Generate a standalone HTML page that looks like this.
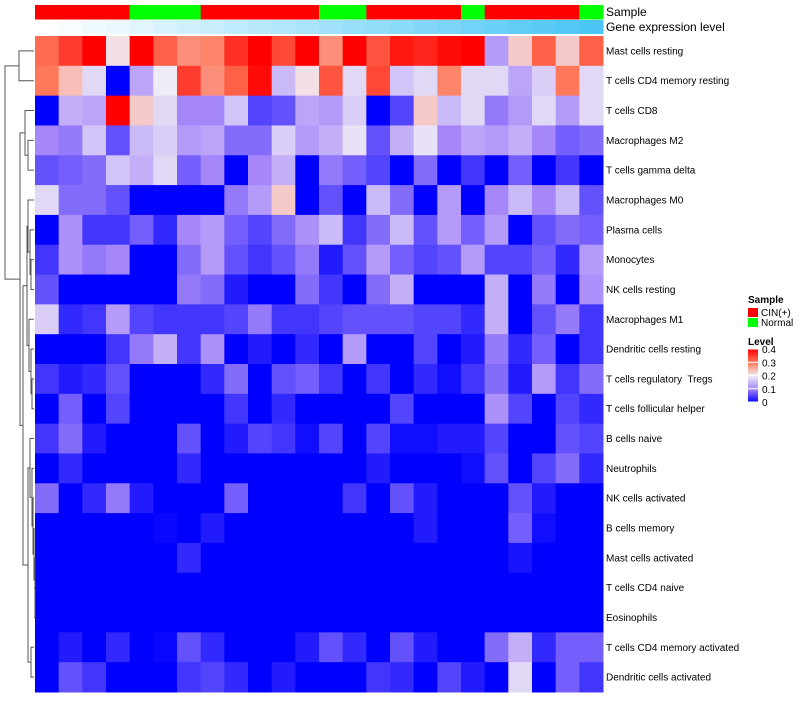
<!DOCTYPE html>
<html><head><meta charset="utf-8"><style>
body{margin:0;background:#fff;font-family:"Liberation Sans",sans-serif;}
svg text{font-family:"Liberation Sans",sans-serif;white-space:pre;}
</style></head><body>
<svg id="chart" width="800" height="700" xmlns="http://www.w3.org/2000/svg"></svg>
<script>
const rowNames=["Mast cells resting","T cells CD4 memory resting","T cells CD8","Macrophages M2","T cells gamma delta","Macrophages M0","Plasma cells","Monocytes","NK cells resting","Macrophages M1","Dendritic cells resting","T cells regulatory  Tregs","T cells follicular helper","B cells naive","Neutrophils","NK cells activated","B cells memory","Mast cells activated","T cells CD4 naive","Eosinophils","T cells CD4 memory activated","Dendritic cells activated"];
const sampleGroups=["CIN","CIN","CIN","CIN","N","N","N","CIN","CIN","CIN","CIN","CIN","N","N","CIN","CIN","CIN","CIN","N","CIN","CIN","CIN","CIN","N"];
const geneLevels=[1,2,3,4,5,6,7,8,9,10,11,12,13,14,15,16,17,18,19,20,21,22,23,24];
const values=[
[.31,.35,.40,.21,.40,.32,.28,.29,.36,.40,.34,.40,.28,.40,.33,.38,.37,.39,.40,.12,.23,.32,.23,.32],
[.30,.24,.18,0,.13,.20,.35,.28,.32,.39,.15,.21,.33,.18,.34,.16,.18,.29,.18,.18,.13,.17,.30,.18],
[0,.14,.13,.40,.23,.18,.10,.10,.16,.05,.06,.13,.12,.17,0,.05,.23,.15,.18,.09,.12,.18,.12,.18],
[.10,.09,.16,.06,.15,.17,.12,.13,.08,.08,.17,.12,.14,.19,.06,.14,.19,.10,.13,.12,.14,.10,.07,.08],
[.06,.07,.08,.16,.14,.18,.07,.10,0,.10,.14,0,.09,.07,.05,0,.08,0,.04,0,.07,0,.04,0],
[.18,.08,.08,.06,0,0,0,0,.09,.12,.23,0,.06,0,.15,.08,0,.12,0,.10,.15,.10,.15,.06],
[0,.11,.04,.04,.07,.03,.10,.12,.07,.05,.08,.11,.15,.04,.08,.15,.06,.12,.07,.12,0,.06,.08,.07],
[.04,.11,.09,.10,0,0,.08,.12,.06,.04,.06,.09,.02,.06,.12,.07,.05,.06,.12,.05,.05,.07,.03,.12],
[.06,0,0,0,0,0,.09,.08,.02,0,0,.08,.04,0,.08,.14,0,0,0,.14,0,.09,0,.11],
[.17,.03,.04,.12,.05,.04,.04,.04,.05,.09,.04,.04,.05,.06,.06,.06,.05,.05,.03,.14,0,.06,.09,.04],
[0,0,0,.04,.09,.14,.04,.11,0,.02,0,.03,0,.12,0,0,.05,0,.02,.09,.03,.07,0,.04],
[.04,.02,.03,.06,0,0,0,.03,.08,0,.06,.07,.04,0,.04,0,.03,.01,.04,.08,.02,.12,.04,.08],
[0,.07,0,.05,0,0,0,0,.04,0,.03,0,0,0,0,.05,0,0,0,.11,.05,0,.05,.03],
[.04,.08,.02,0,0,0,.06,0,.02,.05,.04,.01,.05,0,.05,.01,.01,.02,.02,.05,0,0,.06,.05],
[0,.03,0,0,0,0,.03,0,0,0,0,0,0,0,.02,0,0,0,.01,.06,0,.05,.08,.03],
[.08,0,.03,.09,.02,0,0,0,.07,0,0,0,0,.04,0,.06,.02,0,0,0,.06,.02,0,0],
[0,0,0,0,0,.005,0,.02,0,0,0,0,0,0,0,0,.02,0,0,0,.07,.01,0,0],
[0,0,0,0,0,0,.03,0,0,0,0,0,0,0,0,0,0,0,0,0,.015,0,0,0],
[0,0,0,0,0,0,0,0,0,0,0,0,0,0,0,0,0,0,0,0,0,0,0,0],
[0,0,0,0,0,0,0,0,0,0,0,0,0,0,0,0,0,0,0,0,0,0,0,0],
[0,.02,0,.03,0,.005,.06,.03,0,0,0,.02,.06,.03,0,.06,.02,0,0,.08,.14,.03,.07,.07],
[0,.06,.04,0,0,0,.04,.05,.03,0,.02,0,0,0,.04,.03,0,.05,.02,0,.18,0,.07,.04]];
const levelTicks=["0","0.1","0.2","0.3","0.4"];

const svg=document.getElementById('chart');
const NS="http://www.w3.org/2000/svg";
const X0=35,X1=603,Y0=36,Y1=692;
const cw=(X1-X0)/sampleGroups.length, rh=(Y1-Y0)/rowNames.length;
const xPos=j=>X0+j*cw, yPos=i=>Y0+i*rh;
const stops=[[0,[0,0,255]],[0.1,[165,135,250]],[0.2,[240,236,245]],[0.3,[255,120,90]],[0.4,[255,0,0]]];
function colorOf(v){v=Math.max(0,Math.min(0.4,v));
 for(let k=0;k<stops.length-1;k++){const a=stops[k],b=stops[k+1];
  if(v<=b[0]){const t=(v-a[0])/(b[0]-a[0]);const c=a[1].map((x,n)=>Math.round(x+(b[1][n]-x)*t));return `rgb(${c})`;}}
 return "rgb(255,0,0)";}
function geneColor(l){const t=(l-1)/23;return `rgb(${Math.round(255-(255-75)*t)},${Math.round(255-(255-198)*t)},${Math.round(255-(255-245)*t)})`;}
function mk(tag,attrs,text){const e=document.createElementNS(NS,tag);for(const k in attrs)e.setAttribute(k,attrs[k]);if(text!==undefined)e.textContent=text;svg.appendChild(e);return e;}

sampleGroups.forEach((g,j)=>{
 const r=mk('rect',{x:xPos(j),y:5,width:cw+0.5,height:14.5,fill:g==="CIN"?"#FF0000":"#00FF00"});
 
 
});
geneLevels.forEach((l,j)=>{
 const r=mk('rect',{x:xPos(j),y:20,width:cw+0.5,height:14,fill:geneColor(l)});
 
 
});
values.forEach((row,i)=>row.forEach((v,j)=>{
 const r=mk('rect',{x:xPos(j),y:yPos(i),width:cw+0.5,height:rh+0.5,fill:colorOf(v)});
 
 
}));
rowNames.forEach((n,i)=>{
 const t=mk('text',{x:606,y:yPos(i)+rh/2+3.5,'font-size':10,fill:'#000','xml:space':'preserve'},n);
 
 
});
let t=mk('text',{x:606,y:16,'font-size':12},"Sample");


t=mk('text',{x:606,y:31,'font-size':12},"Gene expression level");



// dendrogram
const tree=[5,[19,0,1],[20,[25,2,[28,3,4]],[23,[27,[28,5,[30,6,[31,7,8]]],[29,9,[31,10,[32,11,12]]]],[28,[30,13,[32,14,[33,15,[34,16,[35,17,[35,18,19]]]]]],[31,20,21]]]]];
function draw(n){ if(typeof n==="number") return {x:34,y:yPos(n)+rh/2};
 const a=draw(n[1]),b=draw(n[2]),x=n[0];
 const p=mk('path',{d:`M${a.x},${a.y}H${x}V${b.y}H${b.x}`,fill:'none',stroke:'#555','stroke-width':1});
 
 
 return {x:x,y:(a.y+b.y)/2};}
draw(tree);

// legend
t=mk('text',{x:748,y:303,'font-size':10,'font-weight':'bold'},"Sample");


[["CIN(+)","#FF0000"],["Normal","#00FF00"]].forEach((e,k)=>{
 const r=mk('rect',{x:748,y:308+k*10,width:10,height:9,fill:e[1]});
 
 
 const tt=mk('text',{x:761,y:316+k*10,'font-size':10},e[0]);
 
 
});
t=mk('text',{x:748,y:345,'font-size':10,'font-weight':'bold'},"Level");


const LB0=402,LB1=349;
for(let k=0;k<40;k++){const v=0.4*k/40;
 const r=mk('rect',{x:748,y:LB0-(k+1)*(LB0-LB1)/40,width:10,height:(LB0-LB1)/40+0.3,fill:colorOf(v+0.005)});
 
 }
levelTicks.forEach((s,k)=>{const y=LB0-(LB0-LB1)*k/4;
 const l=mk('line',{x1:748,x2:758,y1:y,y2:y,stroke:'#fff','stroke-width':1});
 
 
 const tt=mk('text',{x:762,y:y+4,'font-size':10},s);
 
 });
</script>
</body></html>
